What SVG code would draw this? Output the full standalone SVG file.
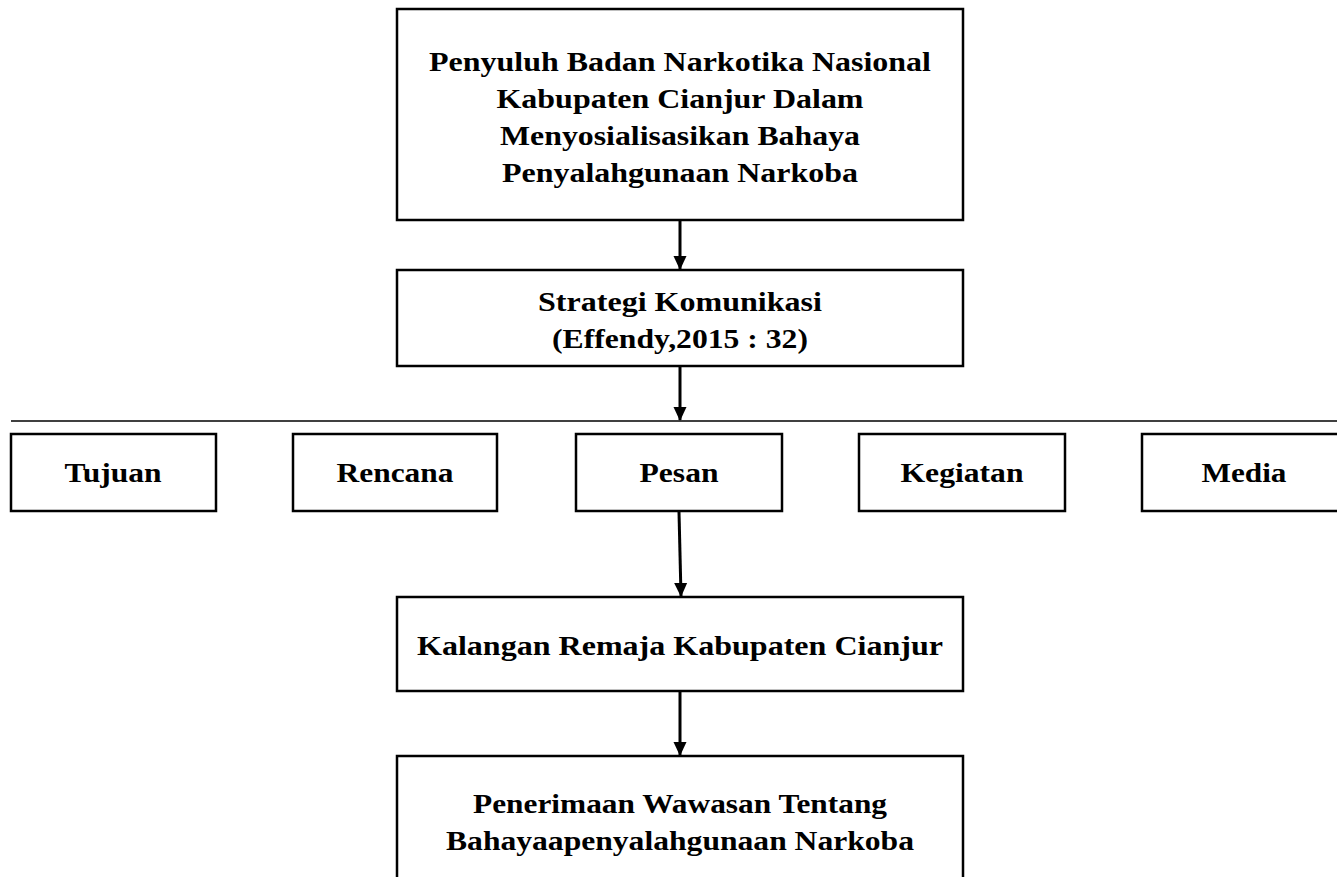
<svg xmlns="http://www.w3.org/2000/svg" width="1337" height="877" viewBox="0 0 1337 877">
<style>
.box{fill:#fff;stroke:#000;stroke-width:2.5}
.t{font-family:"Liberation Serif","Times New Roman",serif;font-weight:bold;font-size:28px;fill:#000;text-anchor:middle}
.c{stroke:#000;stroke-width:3;fill:none}
</style>
<defs>
<marker id="ah" markerWidth="14" markerHeight="15" refX="14" refY="7" orient="auto" markerUnits="userSpaceOnUse" viewBox="0 0 15 14">
<path d="M0,0 L15,7 L0,14 Z" fill="#000"/>
</marker>
</defs>
<g id="connectors">
<line class="c" x1="680" y1="221" x2="680" y2="269" marker-end="url(#ah)"/>
<line class="c" x1="680" y1="366" x2="680" y2="420" marker-end="url(#ah)"/>
<line x1="11" y1="421" x2="1337" y2="421" stroke="#000" stroke-width="1.5"/>
<line class="c" x1="679" y1="512" x2="681" y2="596" marker-end="url(#ah)"/>
<line class="c" x1="680" y1="692" x2="680" y2="755" marker-end="url(#ah)"/>
</g>
<g id="n-top">
<rect class="box" x="397" y="9" width="566" height="211"/>
<text class="t" x="680" y="71" textLength="502" lengthAdjust="spacingAndGlyphs">Penyuluh Badan Narkotika Nasional</text>
<text class="t" x="680" y="108" textLength="367" lengthAdjust="spacingAndGlyphs">Kabupaten Cianjur Dalam</text>
<text class="t" x="680" y="145" textLength="360" lengthAdjust="spacingAndGlyphs">Menyosialisasikan Bahaya</text>
<text class="t" x="680" y="182" textLength="356" lengthAdjust="spacingAndGlyphs">Penyalahgunaan Narkoba</text>
</g>
<g id="n-strategi">
<rect class="box" x="397" y="270" width="566" height="96"/>
<text class="t" x="680" y="311" textLength="284" lengthAdjust="spacingAndGlyphs">Strategi Komunikasi</text>
<text class="t" x="680" y="348" textLength="256" lengthAdjust="spacingAndGlyphs">(Effendy,2015 : 32)</text>
</g>
<g id="n-tujuan">
<rect class="box" x="11" y="434" width="205" height="77"/>
<text class="t" x="113" y="482" textLength="97" lengthAdjust="spacingAndGlyphs">Tujuan</text>
</g>
<g id="n-rencana">
<rect class="box" x="293" y="434" width="204" height="77"/>
<text class="t" x="395" y="482" textLength="117" lengthAdjust="spacingAndGlyphs">Rencana</text>
</g>
<g id="n-pesan">
<rect class="box" x="576" y="434" width="206" height="77"/>
<text class="t" x="679" y="482" textLength="79" lengthAdjust="spacingAndGlyphs">Pesan</text>
</g>
<g id="n-kegiatan">
<rect class="box" x="859" y="434" width="206" height="77"/>
<text class="t" x="962" y="482" textLength="123" lengthAdjust="spacingAndGlyphs">Kegiatan</text>
</g>
<g id="n-media">
<rect class="box" x="1142" y="434" width="200" height="77"/>
<text class="t" x="1244" y="482" textLength="85" lengthAdjust="spacingAndGlyphs">Media</text>
</g>
<g id="n-kalangan">
<rect class="box" x="397" y="597" width="566" height="94"/>
<text class="t" x="680" y="655" textLength="526" lengthAdjust="spacingAndGlyphs">Kalangan Remaja Kabupaten Cianjur</text>
</g>
<g id="n-penerimaan">
<rect class="box" x="397" y="756" width="566" height="130"/>
<text class="t" x="680" y="813" textLength="414" lengthAdjust="spacingAndGlyphs">Penerimaan Wawasan Tentang</text>
<text class="t" x="680" y="850" textLength="468" lengthAdjust="spacingAndGlyphs">Bahayaapenyalahgunaan Narkoba</text>
</g>
</svg>
